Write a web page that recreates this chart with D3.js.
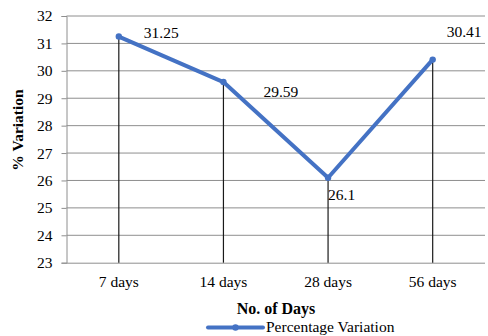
<!DOCTYPE html>
<html>
<head>
<meta charset="utf-8">
<script src="https://cdn.jsdelivr.net/npm/d3@7"></script>
<style>
  html, body { margin: 0; padding: 0; background: #fff; }
  svg { display: block; }
  text { font-family: "Liberation Serif", "Times New Roman", serif; fill: #000; }
</style>
</head>
<body>
<div id="chart"></div>
<script>
// Percentage variation measured at each curing age
const categories = ["7 days", "14 days", "28 days", "56 days"];
const values = [31.25, 29.59, 26.1, 30.41];
const yTicks = [23, 24, 25, 26, 27, 28, 29, 30, 31, 32];
const seriesName = "Percentage Variation";
const xTitle = "No. of Days";
const yTitle = "% Variation";

// Data-label placement relative to each point (dx, dy)
const labelOffsets = [[25, 1.5], [40, 15], [0, 22], [14, -23]];

const W = 488, H = 336;
const plotLeft = 66.5, plotRight = 485, plotTop = 16, plotBottom = 262.7;
const blue = "#4472C4";

const svg = d3.select("#chart").append("svg")
  .attr("width", W).attr("height", H);

const x = d3.scaleBand().domain(categories).range([plotLeft, plotRight]).paddingInner(0).paddingOuter(0);
const y = d3.scaleLinear().domain([23, 32]).range([plotBottom, plotTop]);

// horizontal gridlines
svg.append("g").selectAll("line").data(yTicks.filter(t => t !== 23)).join("line")
  .attr("x1", plotLeft).attr("x2", plotRight)
  .attr("y1", d => y(d)).attr("y2", d => y(d))
  .attr("stroke", "#8e8e8e").attr("stroke-width", 1);

// y axis
const yAxis = svg.append("g").attr("transform", `translate(${plotLeft},0)`)
  .call(d3.axisLeft(y).tickValues(yTicks).tickSize(5).tickPadding(9).tickFormat(d3.format("d")));
yAxis.select(".domain").attr("stroke", "#8e8e8e");
yAxis.selectAll(".tick line").attr("stroke", "#8e8e8e");
yAxis.selectAll(".tick text").attr("font-size", "15.5px")
  .attr("font-family", "Liberation Serif, Times New Roman, serif").attr("fill", "#000");

// x axis
const xAxis = svg.append("g").attr("transform", `translate(0,${plotBottom})`)
  .call(d3.axisBottom(x).tickSize(0).tickPadding(13));
xAxis.select(".domain").attr("stroke", "#8e8e8e").attr("d", `M${plotLeft},0.5H${plotRight}`);
xAxis.selectAll(".tick text").attr("font-size", "15.5px")
  .attr("font-family", "Liberation Serif, Times New Roman, serif").attr("fill", "#000");

// drop lines from each point to the category axis
svg.append("g").selectAll("line").data(values).join("line")
  .attr("x1", (d, i) => x(categories[i]) + x.bandwidth() / 2)
  .attr("x2", (d, i) => x(categories[i]) + x.bandwidth() / 2)
  .attr("y1", d => y(d)).attr("y2", plotBottom)
  .attr("stroke", "#1a1a1a").attr("stroke-width", 1.2);

// series line
const line = d3.line()
  .x((d, i) => x(categories[i]) + x.bandwidth() / 2)
  .y(d => y(d));
svg.append("path").datum(values)
  .attr("d", line)
  .attr("fill", "none").attr("stroke", blue).attr("stroke-width", 4)
  .attr("stroke-linejoin", "round").attr("stroke-linecap", "round");

svg.append("g").selectAll("circle").data(values).join("circle")
  .attr("cx", (d, i) => x(categories[i]) + x.bandwidth() / 2)
  .attr("cy", d => y(d)).attr("r", 3.2).attr("fill", blue);

// data labels
svg.append("g").selectAll("text").data(values).join("text")
  .attr("x", (d, i) => x(categories[i]) + x.bandwidth() / 2 + labelOffsets[i][0])
  .attr("y", (d, i) => y(d) + labelOffsets[i][1])
  .attr("font-size", "15.5px")
  .text(d => d);

// axis titles
svg.append("text")
  .attr("transform", `translate(23,130) rotate(-90)`)
  .attr("text-anchor", "middle").attr("font-weight", "bold").attr("font-size", "15.5px")
  .text(yTitle);

svg.append("text")
  .attr("x", 276).attr("y", 314)
  .attr("text-anchor", "middle").attr("font-weight", "bold").attr("font-size", "16px")
  .text(xTitle);

// legend
const lg = svg.append("g");
lg.append("line").attr("x1", 208).attr("x2", 263).attr("y1", 327.5).attr("y2", 327.5)
  .attr("stroke", blue).attr("stroke-width", 4).attr("stroke-linecap", "round");
lg.append("circle").attr("cx", 235.5).attr("cy", 327.5).attr("r", 3.2).attr("fill", blue);
lg.append("text").attr("x", 266).attr("y", 332).attr("font-size", "15.5px").text(seriesName);
</script>
</body>
</html>
